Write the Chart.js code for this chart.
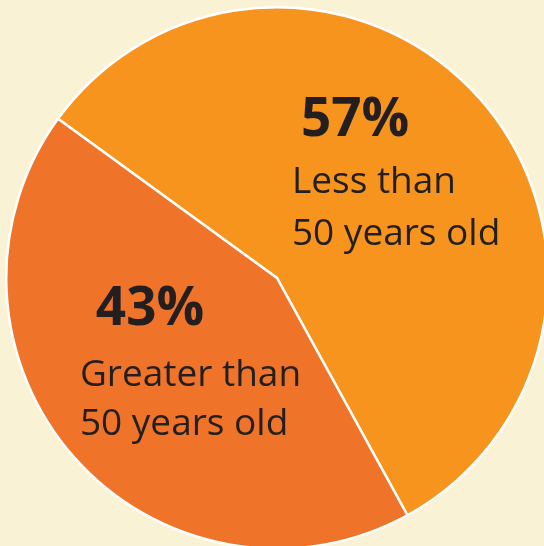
<!DOCTYPE html>
<html>
<head>
<meta charset="utf-8">
<script src="https://cdn.jsdelivr.net/npm/chart.js@4.4.1/dist/chart.umd.min.js"></script>
<style>
  html, body { margin: 0; padding: 0; width: 544px; height: 546px; overflow: hidden; background: #FAF2D5; }
  #wrap { position: absolute; left: 5px; top: 6px; width: 544px; height: 544px; }
</style>
</head>
<body>
<div id="wrap"><canvas id="c"></canvas></div>
<script>
// ---- Data ----
const categories = ["Less than 50 years old", "Greater than 50 years old"];
const labelLines = [["Less than", "50 years old"], ["Greater than", "50 years old"]];
const shares = [57, 43];
const sliceColors = ["#F7941E", "#EF7429"];

// Label layout relative to pie centre, in units of a 272px radius
const labelLayout = [
  { pct: [24, -143], lines: [[15, -85], [15, -33]] },
  { pct: [-182, 47], lines: [[-198, 108], [-198, 158]] }
];

const labelPlugin = {
  id: 'sliceLabels',
  afterDatasetsDraw(chart) {
    const meta = chart.getDatasetMeta(0);
    const ctx = chart.ctx;
    const total = shares.reduce((a, b) => a + b, 0);
    ctx.save();
    ctx.fillStyle = '#231F20';
    ctx.textAlign = 'left';
    ctx.textBaseline = 'alphabetic';
    meta.data.forEach((arc, i) => {
      const cx = arc.x, cy = arc.y, s = arc.outerRadius / 272;
      const lay = labelLayout[i];
      ctx.font = 'bold 53px "Open Sans"';
      ctx.fillText(Math.round(shares[i] / total * 100) + '%', cx + lay.pct[0] * s, cy + lay.pct[1] * s);
      ctx.font = '37px "Open Sans"';
      labelLines[i].forEach((t, j) => {
        ctx.fillText(t, cx + lay.lines[j][0] * s, cy + lay.lines[j][1] * s);
      });
    });
    ctx.restore();
  }
};

new Chart(document.getElementById('c'), {
  type: 'pie',
  data: {
    labels: categories,
    datasets: [{
      data: shares,
      backgroundColor: sliceColors,
      borderColor: '#FFFFFF',
      borderWidth: 2.5
    }]
  },
  options: {
    responsive: true,
    maintainAspectRatio: false,
    animation: false,
    rotation: -54,
    layout: { padding: 0 },
    events: [],
    plugins: {
      legend: { display: false },
      tooltip: { enabled: false }
    }
  },
  plugins: [labelPlugin]
});
</script>
</body>
</html>
